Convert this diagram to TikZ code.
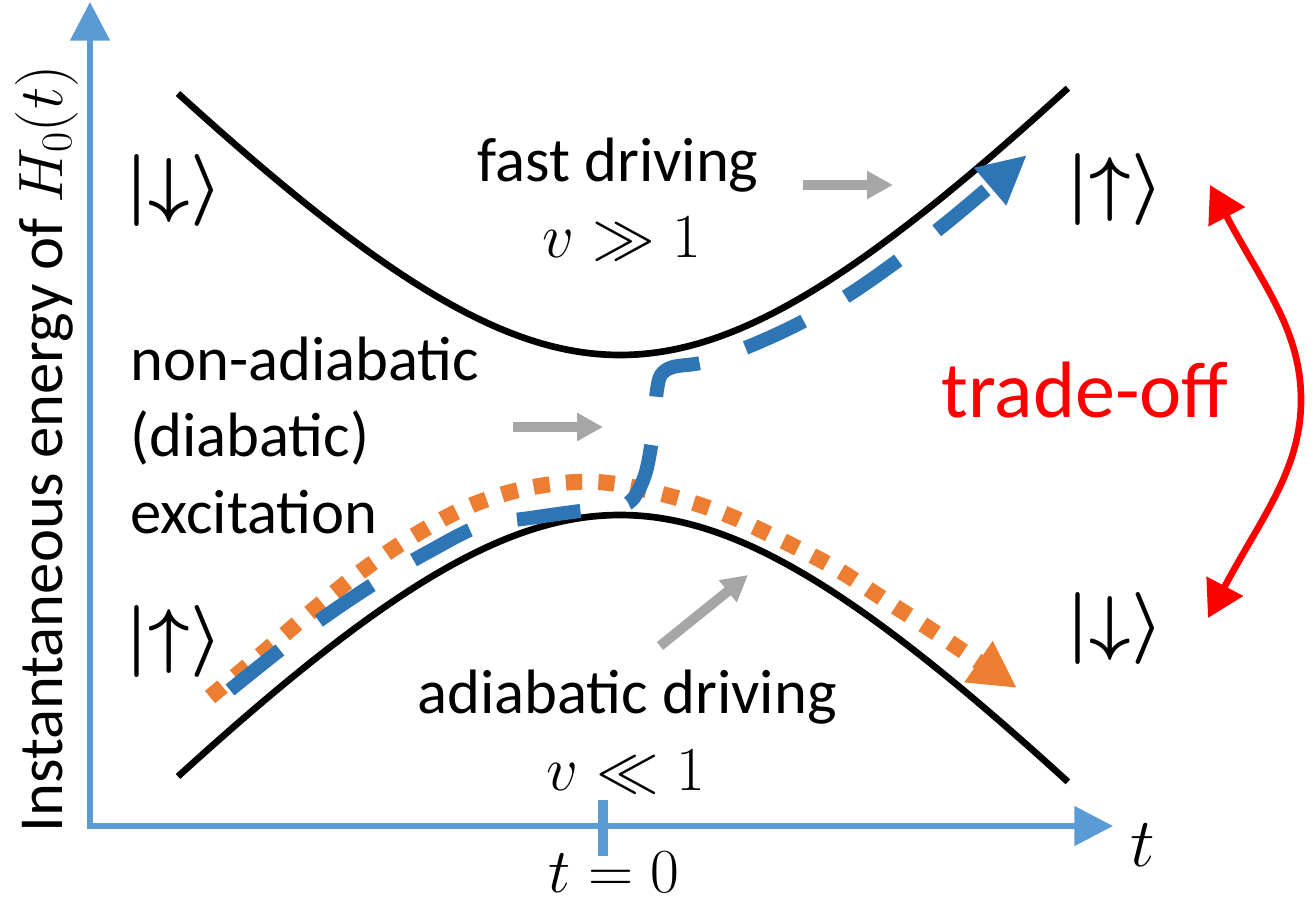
\documentclass[tikz,border=0pt]{standalone}
\usepackage{fix-cm}
\usepackage{fontspec}
\setmainfont{Carlito}
\usetikzlibrary{arrows.meta}
\definecolor{axisblue}{HTML}{5B9BD5}
\definecolor{pathblue}{HTML}{2E75B6}
\definecolor{pathorange}{HTML}{ED7D31}
\definecolor{pointgray}{HTML}{A6A6A6}
\definecolor{tradered}{HTML}{FF0000}
\begin{document}
\begin{tikzpicture}[x=0.75pt,y=-0.75pt,
  txt/.style={font=\fontsize{47}{56}\selectfont, inner sep=0pt, anchor=base},
  ketlbl/.style={font=\fontsize{54}{60}\selectfont\boldmath, inner sep=0pt},
  axisline/.style={draw=axisblue, line width=4.5pt, line join=miter},
  level/.style={draw=black, line width=5pt},
  diabpath/.style={draw=pathblue, line width=10.5pt, dash pattern=on 48pt off 36.4pt,
     -{Triangle[length=36.5pt,width=34.5pt]}},
  adiabpath/.style={draw=pathorange, line width=12pt, dash pattern=on 12.2pt off 12.2pt,
     -{Triangle[length=35pt,width=35pt]}},
  pointer/.style={draw=pointgray, line width=7.5pt, -{Triangle[length=19.5pt,width=20pt]}},
  tradearrow/.style={draw=tradered, line width=5pt,
     {Triangle[length=27pt,width=30pt]}-{Triangle[length=27pt,width=30pt]}}]
\useasboundingbox (0,0) rectangle (1315,905);

% axes
\coordinate (ytip) at (90,2);
\coordinate (origin) at (90,826);
\coordinate (xtip) at (1113,826);
\draw[axisline, {Triangle[length=29pt,width=29pt]}-{Triangle[length=29pt,width=29pt]}] (ytip) -- (origin) -- (xtip);
\coordinate (tickT) at (603,800);
\coordinate (tickB) at (603,856);
\draw[draw=axisblue, line width=8pt] (tickT) -- (tickB);

% energy levels
\draw[level] plot[domain=-4.42:4.48, samples=160] ({620+100*\x},{435-100*sqrt((1.08*\x)^2+3.05^2)+225});
\draw[level] plot[domain=-4.42:4.48, samples=160] ({620+100*\x},{435+100*sqrt((1.08*\x)^2+3.05^2)-225});

% adiabatic path (orange)
\draw[adiabpath] plot[smooth, tension=0.6] coordinates {(210,697) (264,652) (313,610) (363,570) (415,535) (472,505) (533,487) (597,482) (658,493) (720,512) (777,538) (835,568) (888,602) (942,637) (1017,688)};

% diabatic path (blue)
\draw[diabpath] plot[smooth, tension=0.55] coordinates {(230,690) (280,650) (330,613) (380,580) (430,551) (480,526) (530,518) (580,511) (615,507) (632,500) (645,475) (652,440) (655,410) (657,390) (661,375) (673,367) (705,362) (750,346) (800,323) (850,294) (900,259) (950,220) (1000,178) (1027,155)};

% kets
\node[ketlbl] (kdL) at (174,191) {$|{\downarrow}\rangle$};
\node[ketlbl] (kuL) at (174,641) {$|{\uparrow}\rangle$};
\node[ketlbl] (kuR) at (1115,190) {$|{\uparrow}\rangle$};
\node[ketlbl] (kdR) at (1115,629) {$|{\downarrow}\rangle$};

% labels
\node[txt] (fast) at (618,182) {fast driving};
\node[txt] (fastv) at (622,258) {$v \gg 1$};
\node[txt, anchor=base west] (na1) at (130,381) {non-adiabatic};
\node[txt, anchor=base west] (na2) at (130,457) {(diabatic)};
\node[txt, anchor=base west] (na3) at (130,534) {excitation};
\node[txt] (adi) at (627,713) {adiabatic driving};
\node[txt] (adiv) at (626,790) {$v \ll 1$};
\node[txt] (tzero) at (614,892) {$t = 0$};
\node[font=\fontsize{52}{60}\selectfont, inner sep=0pt, anchor=base] (tlab) at (1143,866) {$t$};
\node[txt, rotate=90] (ylab) at (62,449) {Instantaneous energy of $H_0(t)$};
\node[font=\fontsize{60}{70}\selectfont, text=tradered, inner sep=0pt, anchor=base] (trade) at (1085,418) {trade-off};

% gray pointers
\coordinate (g1s) at (803,185); \coordinate (g1e) at (893,185);
\coordinate (g2s) at (513,427); \coordinate (g2e) at (603,427);
\coordinate (g3s) at (660,646); \coordinate (g3e) at (748,575);
\draw[pointer] (g1s) -- (g1e);
\draw[pointer] (g2s) -- (g2e);
\draw[pointer] (g3s) -- (g3e);

% trade-off arrow
\coordinate (redtop) at (1210,185);
\coordinate (redmid) at (1301,400);
\coordinate (redbot) at (1208,618);
\draw[tradearrow] (redtop) .. controls (1263,285) and (1301,330) .. (redmid) .. controls (1301,470) and (1261,518) .. (redbot);
\end{tikzpicture}
\end{document}
